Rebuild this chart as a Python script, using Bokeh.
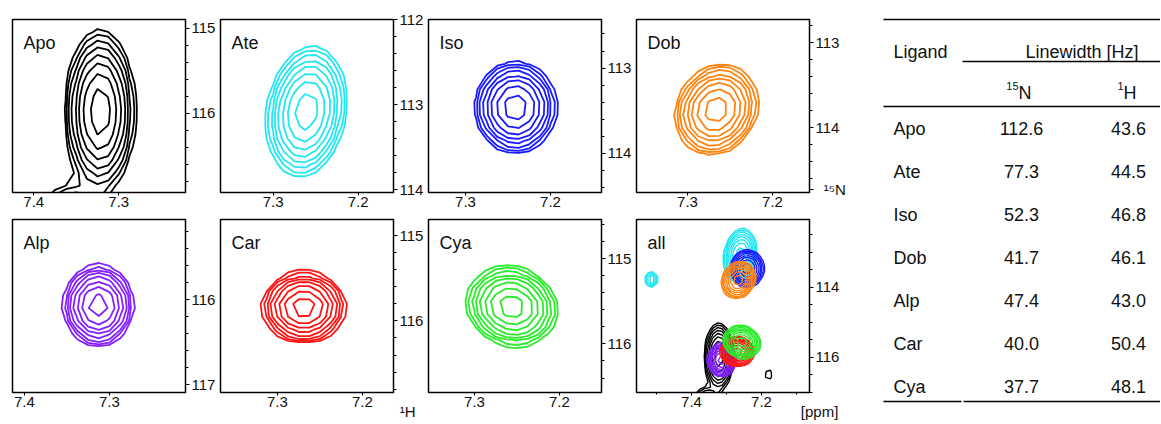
import numpy as np
from bokeh.plotting import figure
from bokeh.models import Range1d, FixedTicker, Label, LinearAxis
from bokeh.layouts import row, column
from bokeh.embed import file_html
from bokeh.resources import INLINE
from bokeh.core.properties import value

FONT = "Liberation Sans"
INK = "#111111"
FRAME = 173
NBSP = "\u00a0"

# ---------------- table values ----------------
ligands = ["Apo", "Ate", "Iso", "Dob", "Alp", "Car", "Cya"]
linewidth_15N = [112.6, 77.3, 52.3, 41.7, 47.4, 40.0, 37.7]
linewidth_1H = [43.6, 44.5, 46.8, 46.1, 43.0, 50.4, 48.1]
ligand_colors = ["#000000", "#22e6f2", "#1a1aff", "#ff8410", "#8420ff", "#ff1414", "#28ec28"]

# ---------------- cross-peak model (ppm) ----------------
peak_H = [7.322, 7.261, 7.241, 7.266, 7.313, 7.269, 7.256]
peak_N = [115.98, 113.08, 113.46, 113.79, 116.07, 115.84, 115.56]
outer_half_H = [0.041, 0.046, 0.048, 0.048, 0.041, 0.049, 0.053]
outer_half_N = [0.96, 0.76, 0.53, 0.52, 0.47, 0.41, 0.46]
peak_shear = [0.0, 0.010, 0.0, 0.013, 0.0, 0.0, -0.012]

# weaker neighbouring peaks seen in the overlay
extra_owner = ["Apo", "Apo", "Ate"]
extra_H = [7.355, 7.180, 7.514]
extra_N = [117.60, 116.49, 113.77]
extra_sigma_H = [0.020, 0.009, 0.009]
extra_sigma_N = [0.30, 0.15, 0.12]
extra_height = [1.00, 0.075, 0.25]

contour_base = 0.045
contour_factor = 1.5
n_levels = 8

# ---------------- panel windows and ticks ----------------
panel_H_range = [(7.425, 7.2215), (7.362, 7.1585), (7.3435, 7.140), (7.360, 7.1565),
                 (7.414, 7.2105), (7.367, 7.1635), (7.354, 7.1505)]
panel_N_range = [(114.90, 116.93), (112.00, 114.03), (112.43, 114.46), (112.73, 114.76),
                 (115.06, 117.09), (114.81, 116.84), (114.54, 116.57)]
panel_H_ticks = [[7.4, 7.3], [7.3, 7.2], [7.3, 7.2], [7.3, 7.2],
                 [7.4, 7.3], [7.3, 7.2], [7.3, 7.2]]
panel_N_ticks = [[115, 116], [112, 113, 114], [113, 114], [113, 114],
                 [116, 117], [115, 116], [115, 116]]
overlay_H_range = (7.557, 7.063)
overlay_N_range = (112.06, 117.0)
overlay_H_ticks = [7.4, 7.2]
overlay_H_minor = [7.5, 7.3, 7.1]
overlay_N_ticks = [112, 114, 116]

# ---------------- spectra ----------------
R0 = np.sqrt(-2.0 * np.log(contour_base))
grid_H = np.arange(7.00, 7.65, 0.0125)
grid_N = np.arange(111.0, 119.0, 0.15)
HH, NN = np.meshgrid(grid_H, grid_N)


def gauss(h0, n0, sh, sn, shear, height):
    u = (HH - h0 - shear * (NN - n0)) / sh
    v = (NN - n0) / sn
    return height * np.exp(-0.5 * (u * u + v * v))


spectra = []
for i, name in enumerate(ligands):
    z = gauss(peak_H[i], peak_N[i], outer_half_H[i] / R0, outer_half_N[i] / R0, peak_shear[i], 1.0)
    for j, owner in enumerate(extra_owner):
        if owner == name:
            z = z + gauss(extra_H[j], extra_N[j], extra_sigma_H[j], extra_sigma_N[j], 0.0, extra_height[j])
    spectra.append(z)
levels = list(contour_base * contour_factor ** np.arange(n_levels))

col_left = [12, 2, 2, 2]
col_right = [33, 33, 33, 65]
row_top = [19, 4]
row_bottom = [23, 32]


def style_axis(ax):
    ax.axis_line_color = None
    ax.major_tick_in = 0
    ax.minor_tick_in = 0
    ax.major_tick_line_color = "black"
    ax.minor_tick_line_color = "black"
    ax.major_label_text_font = FONT
    ax.major_label_text_font_size = "15px"
    ax.major_label_text_color = INK


def make_panel(h_range, n_range, h_ticks, h_minor, n_ticks, n_minor, r, c, overrides=None):
    p = figure(frame_width=FRAME, frame_height=FRAME,
               x_range=Range1d(h_range[0], h_range[1]),
               y_range=Range1d(n_range[1], n_range[0]),
               y_axis_location="right", output_backend="svg", toolbar_location=None,
               min_border_left=col_left[c], min_border_right=col_right[c],
               min_border_top=row_top[r], min_border_bottom=row_bottom[r],
               background_fill_color="white", border_fill_color="white")
    p.xgrid.visible = False
    p.ygrid.visible = False
    p.outline_line_color = "black"
    p.outline_line_width = 1.5
    p.outline_line_alpha = 1.0
    xa = p.xaxis[0]
    ya = p.yaxis[0]
    xa.ticker = FixedTicker(ticks=h_ticks, minor_ticks=h_minor)
    ya.ticker = FixedTicker(ticks=n_ticks, minor_ticks=n_minor)
    style_axis(xa)
    style_axis(ya)
    if overrides:
        ya.major_label_overrides = overrides
    xa.major_tick_out = 3
    xa.minor_tick_out = 2
    xa.major_label_standoff = 1
    ya.major_tick_out = 4
    ya.minor_tick_out = 3
    ya.major_label_standoff = 2
    return p


def add_corner_caption(p, tick, text):
    # a tick-less secondary axis below the first one carries the unit caption
    ax = LinearAxis(ticker=FixedTicker(ticks=[tick], minor_ticks=[]),
                    major_label_overrides={tick: text})
    style_axis(ax)
    ax.major_tick_line_color = None
    ax.minor_tick_line_color = None
    ax.major_tick_out = 0
    ax.minor_tick_out = 0
    ax.major_label_standoff = -7
    p.add_layout(ax, "below")


def add_name(p, h_range, n_range, px, py, text):
    x = h_range[0] + (h_range[1] - h_range[0]) * px / FRAME
    y = n_range[0] + (n_range[1] - n_range[0]) * py / FRAME
    p.add_layout(Label(x=x, y=y, text=text, text_font=FONT, text_font_size="18px",
                       text_color=INK, text_align="left", text_baseline="alphabetic"))


positions = [(0, 0), (0, 1), (0, 2), (0, 3), (1, 0), (1, 1), (1, 2)]
panels = []
for i, name in enumerate(ligands):
    r, c = positions[i]
    hr, nr = panel_H_range[i], panel_N_range[i]
    n_minor = list(np.round(np.arange(np.floor(nr[0]), np.ceil(nr[1]) + 0.01, 0.2), 2))
    ticks = list(panel_N_ticks[i])
    overrides = None
    if name == "Dob":
        ticks = ticks + [114.72]
        overrides = {114.72: NBSP * 2 + "\u00b9\u2075N"}
    p = make_panel(hr, nr, panel_H_ticks[i], [], ticks, n_minor, r, c, overrides)
    p.contour(HH, NN, spectra[i], levels, line_color=[ligand_colors[i]] * n_levels, line_width=1.8)
    add_name(p, hr, nr, 11, 23, name)
    if name == "Car":
        add_corner_caption(p, 7.164, NBSP * 7 + "\u00b9H")
    panels.append(p)

ov_minor_N = list(np.arange(112.0, 117.01, 0.5))
ov = make_panel(overlay_H_range, overlay_N_range, overlay_H_ticks, overlay_H_minor,
                overlay_N_ticks, ov_minor_N, 1, 3)
for i in range(len(ligands)):
    ov.contour(HH, NN, spectra[i], levels, line_color=[ligand_colors[i]] * n_levels, line_width=1.4)
add_name(ov, overlay_H_range, overlay_N_range, 11, 23, "all")
add_corner_caption(ov, 7.064, NBSP * 5 + "[ppm]")

# ---------------- table ----------------
TW, TH = 286, 424
t = figure(frame_width=TW, frame_height=TH, x_range=Range1d(0, TW), y_range=Range1d(TH, 0),
           x_axis_type=None, y_axis_type=None, output_backend="svg", toolbar_location=None,
           min_border_left=0, min_border_right=0, min_border_top=0, min_border_bottom=0,
           outline_line_color=None, background_fill_color="white", border_fill_color="white")

x_name, x_n, x_h = 19, 147, 254
row_y0, row_dy = 128, 43
rule_x0 = [9, 88, 9, 9, 89]
rule_x1 = [TW, TW, TW, 87, TW]
rule_y = [19, 61, 106, 401, 401]
t.segment(x0=rule_x0, y0=rule_y, x1=rule_x1, y1=rule_y, line_color="black", line_width=1.3)

tf = value(FONT)
t.text(x=[x_name], y=[51], text=["Ligand"], text_font=tf, text_font_size="18px",
       text_color=INK, text_align="left", text_baseline="alphabetic")
t.text(x=[(x_n + x_h) / 2 + 7], y=[51], text=["Linewidth [Hz]"], text_font=tf, text_font_size="18px",
       text_color=INK, text_align="center", text_baseline="alphabetic")
t.text(x=[x_n - 3, x_h - 5], y=[85, 85], text=["15", "1"], text_font=tf, text_font_size="11px",
       text_color=INK, text_align="right", text_baseline="alphabetic")
t.text(x=[x_n - 3, x_h - 5], y=[92, 92], text=["N", "H"], text_font=tf, text_font_size="18px",
       text_color=INK, text_align="left", text_baseline="alphabetic")

ys = [row_y0 + row_dy * i for i in range(len(ligands))]
t.text(x=[x_name] * len(ligands), y=ys, text=ligands, text_font=tf, text_font_size="18px",
       text_color=INK, text_align="left", text_baseline="alphabetic")
t.text(x=[x_n] * len(ligands), y=ys, text=["%.1f" % v for v in linewidth_15N], text_font=tf,
       text_font_size="18px", text_color=INK, text_align="center", text_baseline="alphabetic")
t.text(x=[x_h] * len(ligands), y=ys, text=["%.1f" % v for v in linewidth_1H], text_font=tf,
       text_font_size="18px", text_color=INK, text_align="center", text_baseline="alphabetic")

grid = column(row(panels[0], panels[1], panels[2], panels[3]),
              row(panels[4], panels[5], panels[6], ov))
layout = row(grid, t)
open("out.html", "w").write(file_html(layout, INLINE, "NMR linewidths"))
